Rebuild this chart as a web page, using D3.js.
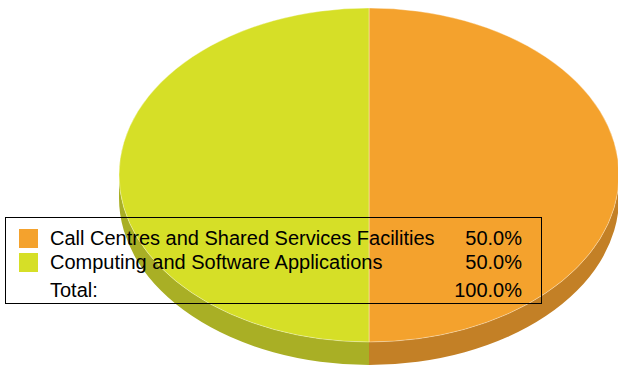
<!DOCTYPE html>
<html>
<head>
<meta charset="utf-8">
<title>pie</title>
<script src="https://d3js.org/d3.v7.min.js"></script>
<style>
  body { margin: 0; background: #fff; }
  text { font-family: "Liberation Sans", Arial, sans-serif; }
</style>
</head>
<body>
<script>
var width = 618, height = 366;

// data
var categories = ["Call Centres and Shared Services Facilities", "Computing and Software Applications"];
var values = [50, 50];
var colors = ["#F4A22D", "#D6DF27"];
var sideColors = ["#C38026", "#A9AF25"];
var totalLabel = "Total:";

var svg = d3.select("body").append("svg")
    .attr("width", width)
    .attr("height", height);

var cx = 369, cy = 175, rx = 250, ry = 167, depth = 23;

var pie = d3.pie().sort(null).value(function(d) { return d; });
var arcs = pie(values);

function pt(a, dy) {
  return [cx + rx * Math.sin(a), cy - ry * Math.cos(a) + (dy || 0)];
}

function topPath(d) {
  var p0 = pt(d.startAngle), p1 = pt(d.endAngle);
  var large = (d.endAngle - d.startAngle) > Math.PI ? 1 : 0;
  return "M" + cx + "," + cy + "L" + p0 + "A" + rx + "," + ry + " 0 " + large + " 1 " + p1 + "Z";
}

// side band only for the front half (angles between PI/2 and 3PI/2)
function sidePath(d) {
  var a0 = Math.max(d.startAngle, Math.PI / 2), a1 = Math.min(d.endAngle, 3 * Math.PI / 2);
  if (a1 <= a0) return null;
  var p0 = pt(a0), p1 = pt(a1), q1 = pt(a1, depth), q0 = pt(a0, depth);
  return "M" + p0 + "A" + rx + "," + ry + " 0 0 1 " + p1 +
    "L" + q1 + "A" + rx + "," + ry + " 0 0 0 " + q0 + "Z";
}

svg.append("g").selectAll("path")
  .data(arcs)
  .enter().append("path")
  .attr("d", sidePath)
  .attr("fill", function(d, i) { return sideColors[i]; });

svg.append("g").selectAll("path")
  .data(arcs)
  .enter().append("path")
  .attr("d", topPath)
  .attr("fill", function(d, i) { return colors[i]; })
  .attr("stroke", "#fff")
  .attr("stroke-opacity", 0.5)
  .attr("stroke-width", 0.7);

// legend
var legend = svg.append("g");
legend.append("rect")
  .attr("x", 5.5).attr("y", 217.5)
  .attr("width", 536).attr("height", 86)
  .attr("fill", "none")
  .attr("stroke", "#000")
  .attr("stroke-width", 1);

var total = d3.sum(values);
var fmt = function(v) { return (v / total * 100).toFixed(1) + "%"; };
var rowY = [245, 269, 297];
var fs = 20;

var rows = legend.selectAll("g.row")
  .data(categories)
  .enter().append("g").attr("class", "row");

rows.append("rect")
  .attr("x", 19).attr("y", function(d, i) { return rowY[i] - 16; })
  .attr("width", 19).attr("height", 19)
  .attr("fill", function(d, i) { return colors[i]; });

rows.append("text")
  .attr("x", 50).attr("y", function(d, i) { return rowY[i]; })
  .attr("font-size", fs)
  .text(function(d) { return d; });

rows.append("text")
  .attr("x", 522).attr("y", function(d, i) { return rowY[i]; })
  .attr("font-size", fs).attr("text-anchor", "end")
  .text(function(d, i) { return fmt(values[i]); });

legend.append("text")
  .attr("x", 50).attr("y", rowY[2])
  .attr("font-size", fs).text(totalLabel);
legend.append("text")
  .attr("x", 522).attr("y", rowY[2])
  .attr("font-size", fs).attr("text-anchor", "end")
  .text(fmt(total));
</script>
</body>
</html>
